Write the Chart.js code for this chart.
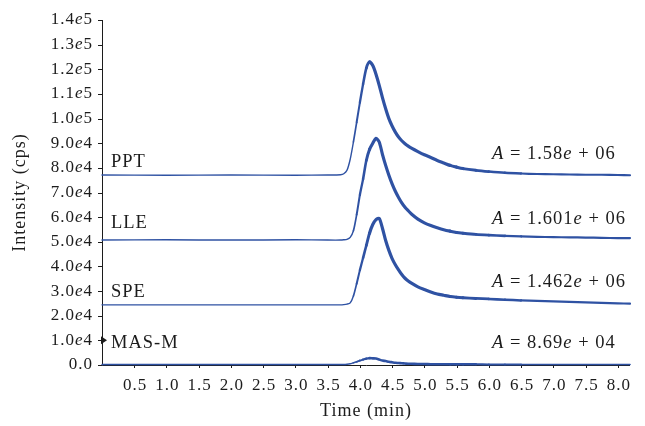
<!DOCTYPE html>
<html>
<head>
<meta charset="utf-8">
<script src="https://cdn.jsdelivr.net/npm/chart.js@4.4.1/dist/chart.umd.min.js"></script>
<style>
    html, body { margin: 0; padding: 0; background: #fff; }
    #chromChart { display: block; }
</style>
</head>
<body>
<canvas id="chromChart" width="645" height="426"></canvas>
<script>
// retention time (min), shared by all four traces
var times = [0, 1, 2, 3, 3.5, 3.7, 3.75, 3.8, 3.85, 3.9, 3.95, 4.0, 4.05, 4.1, 4.15, 4.2, 4.25, 4.3, 4.35, 4.4,
    4.45, 4.5, 4.55, 4.6, 4.65, 4.7, 4.75, 4.8, 4.9, 5.0, 5.1, 5.2, 5.3, 5.4, 5.5, 5.6, 5.8, 6.0, 6.25, 6.5,
    6.75, 7.0, 7.25, 7.5, 7.75, 8.0, 8.19];

// intensities in units of 1e4 cps
var pptValues = [7.71, 7.70, 7.71, 7.70, 7.71, 7.72, 7.76, 7.9, 8.35, 9.05, 9.85, 10.65, 11.4, 12.05, 12.3, 12.15, 11.8, 11.35, 10.85, 10.4,
    10.0, 9.7, 9.45, 9.25, 9.1, 8.98, 8.88, 8.8, 8.66, 8.53, 8.42, 8.3, 8.2, 8.1, 8.03, 7.97, 7.9, 7.85, 7.8, 7.77,
    7.75, 7.74, 7.73, 7.72, 7.72, 7.71, 7.7];
var lleValues = [5.07, 5.08, 5.07, 5.08, 5.07, 5.07, 5.08, 5.1, 5.18, 5.45, 6.1, 6.9, 7.55, 8.3, 8.75, 9.0, 9.2, 9.05, 8.55, 8.1,
    7.7, 7.35, 7.05, 6.8, 6.58, 6.4, 6.26, 6.13, 5.92, 5.77, 5.66, 5.57, 5.49, 5.43, 5.38, 5.35, 5.3, 5.27, 5.24, 5.22,
    5.2, 5.19, 5.18, 5.17, 5.16, 5.15, 5.15];
var speValues = [2.44, 2.44, 2.44, 2.44, 2.44, 2.44, 2.45, 2.47, 2.52, 2.8, 3.3, 3.85, 4.35, 4.85, 5.35, 5.7, 5.9, 5.95, 5.55, 5.05,
    4.65, 4.32, 4.07, 3.86, 3.67, 3.52, 3.41, 3.32, 3.17, 3.06, 2.96, 2.88, 2.83, 2.78, 2.75, 2.73, 2.7, 2.68, 2.65, 2.62,
    2.6, 2.58, 2.56, 2.54, 2.52, 2.5, 2.49];
var masValues = [0.02, 0.02, 0.02, 0.02, 0.02, 0.02, 0.02, 0.03, 0.05, 0.09, 0.13, 0.18, 0.22, 0.26, 0.28, 0.27, 0.26, 0.22, 0.18, 0.16,
    0.13, 0.11, 0.09, 0.08, 0.07, 0.06, 0.05, 0.05, 0.04, 0.04, 0.03, 0.03, 0.03, 0.03, 0.03, 0.03, 0.03, 0.02, 0.02, 0.02,
    0.02, 0.02, 0.02, 0.02, 0.02, 0.02, 0.02];

var seriesNames = ["PPT", "LLE", "SPE", "MAS-M"];
var areaMantissa = ["1.58", "1.601", "1.462", "8.69"];
var areaExponent = ["06", "06", "06", "04"];

var yTickLabels = ["0.0", "1.0e4", "2.0e4", "3.0e4", "4.0e4", "5.0e4", "6.0e4", "7.0e4",
    "8.0e4", "9.0e4", "1.0e5", "1.1e5", "1.2e5", "1.3e5", "1.4e5"];
var xTickLabels = ["0.5", "1.0", "1.5", "2.0", "2.5", "3.0", "3.5", "4.0",
    "4.5", "5.0", "5.5", "6.0", "6.5", "7.0", "7.5", "8.0"];

// label placement (pixels)
var nameY = [162, 223, 292, 343];
var areaY = [154, 219, 282, 343];

var FONT = "'Liberation Serif', 'Times New Roman', serif";
var TRACE = "#2f52a3";
var INK = "#1c1c1c";

function setFont(ctx, size, italic) {
    ctx.font = (italic ? "italic " : "") + size + "px " + FONT;
}

// "1.4e5" -> 1.4 normal, e italic, 5 normal
function richParts(text) {
    var i = text.indexOf("e");
    if (i < 0) return [[text, false]];
    return [[text.slice(0, i), false], ["e", true], [text.slice(i + 1), false]];
}

function drawRich(ctx, parts, x, y, size, align) {
    var widths = parts.map(function (p) {
        setFont(ctx, size, p[1]);
        return ctx.measureText(p[0]).width;
    });
    var total = widths.reduce(function (a, b) { return a + b; }, 0);
    var start = align === "right" ? x - total : align === "center" ? x - total / 2 : x;
    ctx.textAlign = "left";
    parts.forEach(function (p, k) {
        setFont(ctx, size, p[1]);
        ctx.fillText(p[0], start, y);
        start += widths[k];
    });
}

// noise band gets wider on the peak and its tail
function traceWidth(t, small) {
    var top = small ? 2.6 : 3.2;
    var tail = small ? 1.6 : 2.2;
    if (t < 3.85) return 1.4;
    if (t < 4.15) return 1.4 + (top - 1.4) * (t - 3.85) / 0.3;
    if (t < 5.3) return top;
    if (t < 6.5) return top + (tail - top) * (t - 5.3) / 1.2;
    return tail;
}

function makeDataset(name, values, small) {
    return {
        label: name,
        data: times.map(function (t, i) { return { x: t, y: values[i] * 1e4 }; }),
        borderColor: TRACE,
        borderWidth: 1.5,
        borderCapStyle: "round",
        borderJoinStyle: "round",
        pointRadius: 0,
        tension: 0.25,
        clip: false,
        segment: {
            borderWidth: function (ctx) { return traceWidth(ctx.p0.parsed.x, small); },
        },
    };
}

var axesPlugin = {
    id: "chromAxes",
    beforeDatasetsDraw: function (chart) {
        var ctx = chart.ctx;
        var xs = chart.scales.x, ys = chart.scales.y;
        var area = chart.chartArea;
        ctx.save();
        ctx.strokeStyle = INK;
        ctx.lineWidth = 1;
        ctx.beginPath();
        ctx.moveTo(area.left + 0.5, ys.getPixelForValue(140000));
        ctx.lineTo(area.left + 0.5, area.bottom + 0.5);
        ctx.lineTo(area.right, area.bottom + 0.5);
        yTickLabels.forEach(function (lab, i) {
            var py = Math.round(ys.getPixelForValue(i * 1e4)) + 0.5;
            ctx.moveTo(area.left - 4, py);
            ctx.lineTo(area.left + 0.5, py);
        });
        xTickLabels.forEach(function (lab) {
            var px = Math.round(xs.getPixelForValue(parseFloat(lab))) + 0.5;
            ctx.moveTo(px, area.bottom);
            ctx.lineTo(px, area.bottom + 3);
        });
        ctx.stroke();
        ctx.restore();
    },
    afterDraw: function (chart) {
        var ctx = chart.ctx;
        var xs = chart.scales.x, ys = chart.scales.y;
        var area = chart.chartArea;
        ctx.save();
        ctx.fillStyle = INK;
        ctx.textBaseline = "middle";
        ctx.letterSpacing = "1px";

        yTickLabels.forEach(function (lab, i) {
            drawRich(ctx, richParts(lab), area.left - 9, ys.getPixelForValue(i * 1e4), 17, "right");
        });
        xTickLabels.forEach(function (lab) {
            drawRich(ctx, [[lab, false]], xs.getPixelForValue(parseFloat(lab)) + 1, 386, 17, "center");
        });

        drawRich(ctx, [["Time (min)", false]], (area.left + area.right) / 2, 411, 18, "center");
        ctx.save();
        ctx.translate(20, (area.top + area.bottom) / 2);
        ctx.rotate(-Math.PI / 2);
        drawRich(ctx, [["Intensity (cps)", false]], 0, 0, 18, "center");
        ctx.restore();

        seriesNames.forEach(function (name, i) {
            drawRich(ctx, [[name, false]], 111, nameY[i], 18.5, "left");
            drawRich(ctx, [["A", true], [" = " + areaMantissa[i], false], ["e", true], [" + " + areaExponent[i], false]],
                492, areaY[i], 18.5, "left");
        });

        // small marker on the axis at 1.0e4
        var my = ys.getPixelForValue(1e4);
        ctx.beginPath();
        ctx.moveTo(area.left - 1, my - 4);
        ctx.lineTo(area.left + 5, my);
        ctx.lineTo(area.left - 1, my + 4);
        ctx.closePath();
        ctx.fill();
        ctx.restore();
    },
};

var ctx = document.getElementById("chromChart");
var chromChart = new Chart(ctx, {
    type: "line",
    data: {
        datasets: [
            makeDataset("PPT", pptValues, false),
            makeDataset("LLE", lleValues, false),
            makeDataset("SPE", speValues, false),
            makeDataset("MAS-M", masValues, true),
        ],
    },
    options: {
        responsive: false,
        animation: false,
        devicePixelRatio: 1,
        layout: {
            padding: { left: 102, right: 15, top: 20, bottom: 61 },
        },
        scales: {
            x: { type: "linear", min: 0, max: 8.19, display: false },
            y: { min: 0, max: 140000, display: false },
        },
        plugins: {
            legend: { display: false },
            tooltip: { enabled: false },
        },
    },
    plugins: [axesPlugin],
});
</script>
</body>
</html>
